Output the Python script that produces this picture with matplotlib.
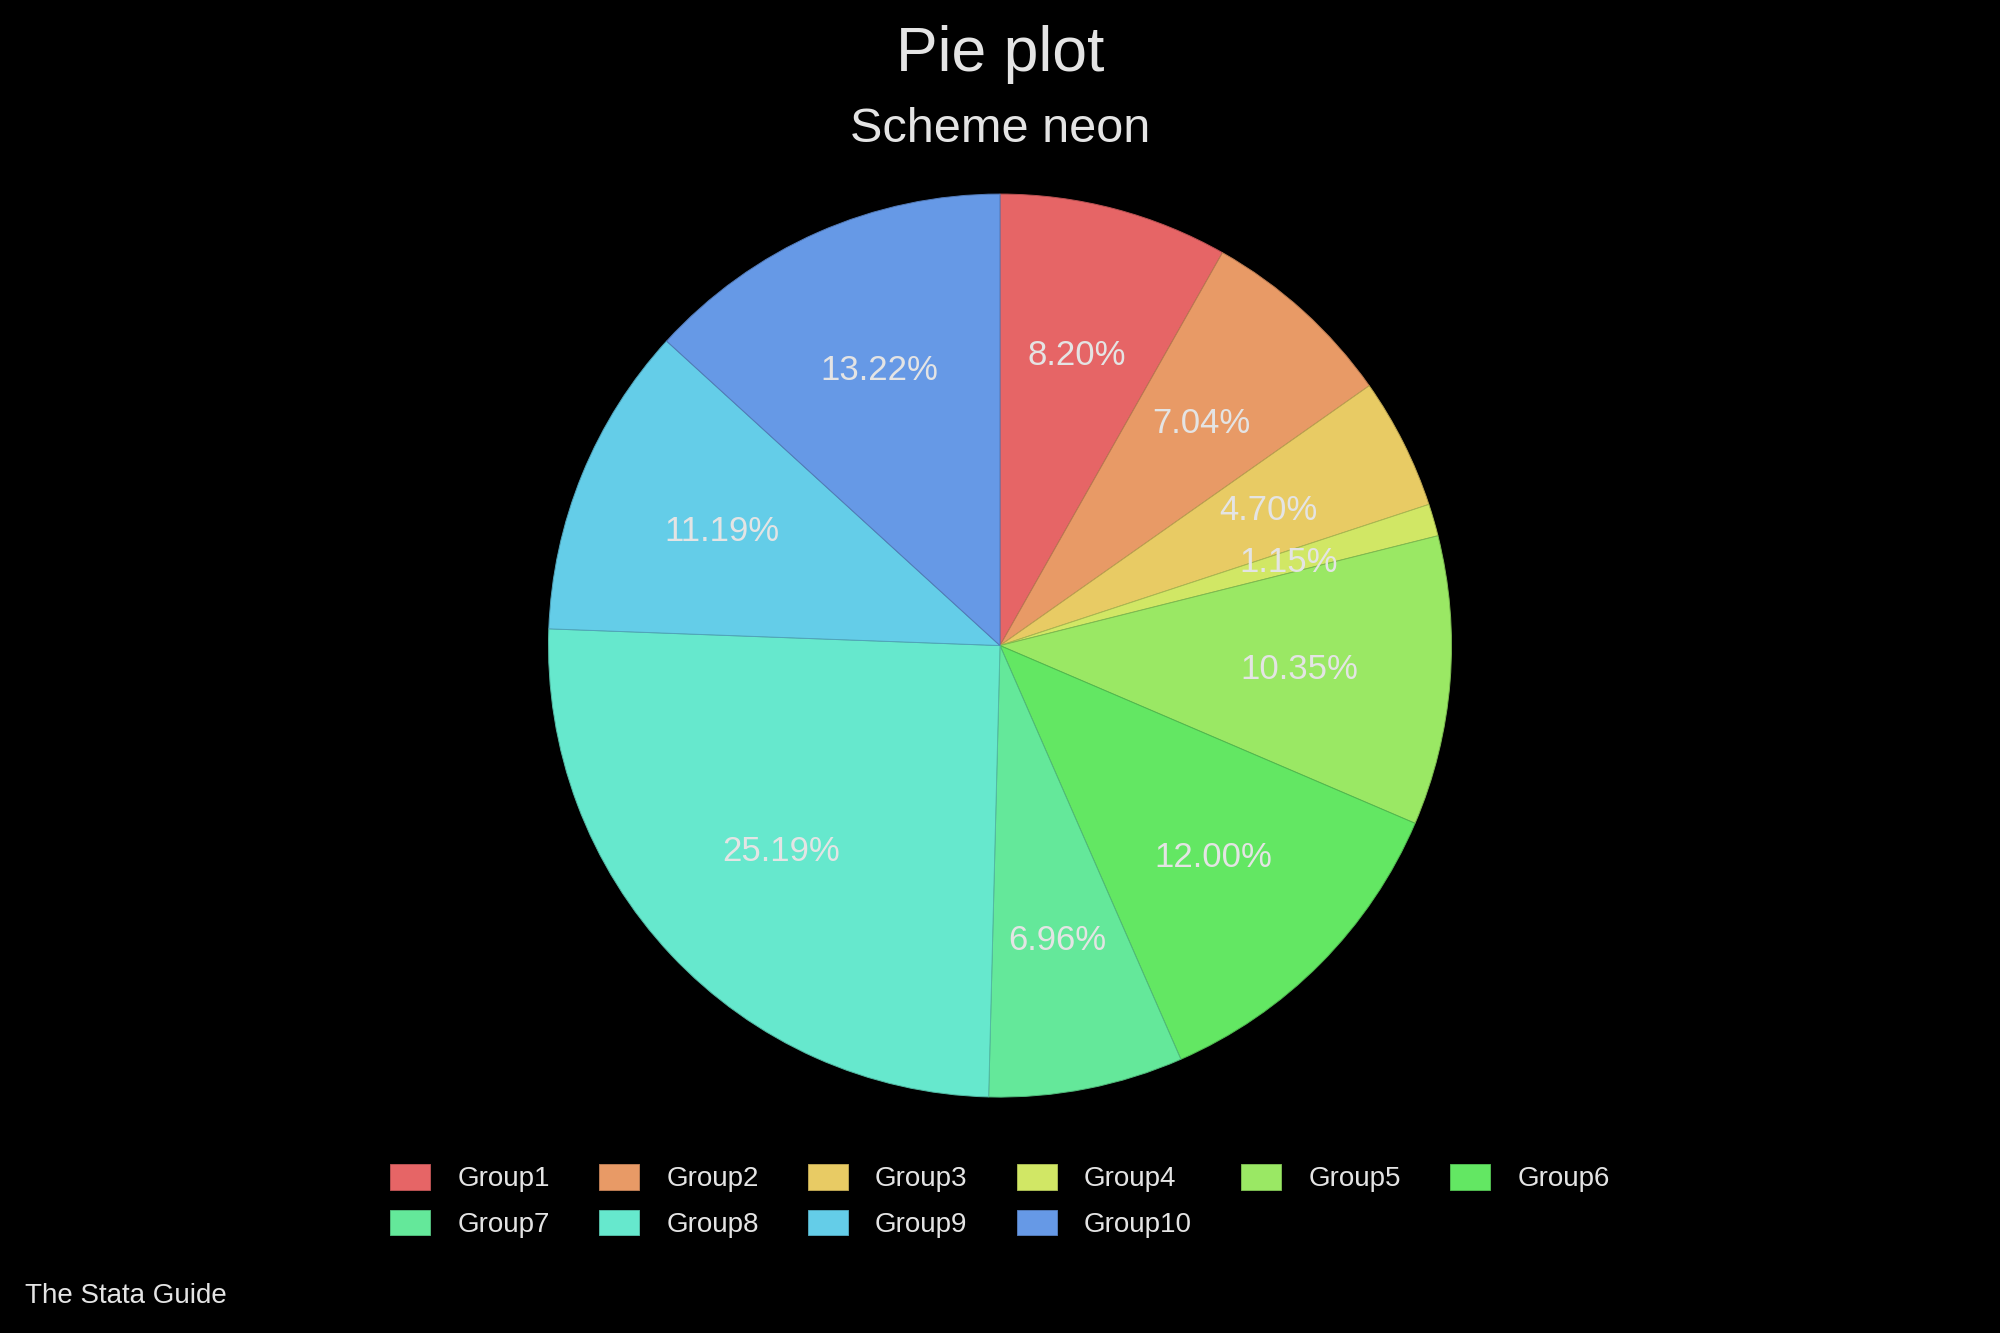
import numpy as np
import matplotlib.pyplot as plt
from matplotlib.colors import to_rgb
from matplotlib.patches import Patch

plt.rcParams['font.family'] = ['Liberation Sans Narrow', 'Liberation Sans', 'DejaVu Sans']

# ----------------------------------------------------------------------
# Data (shares in percent)
# ----------------------------------------------------------------------
groups = ["Group1", "Group2", "Group3", "Group4", "Group5",
          "Group6", "Group7", "Group8", "Group9", "Group10"]
shares = [8.20, 7.04, 4.70, 1.15, 10.35, 12.00, 6.96, 25.19, 11.19, 13.22]
colors = ["#E66566", "#E89A66", "#E8CB64", "#D1E765", "#9AE864",
          "#63E763", "#64E89A", "#66E8CD", "#64CDE8", "#6699E6"]

TEXT = "#E4E4E4"
BG = "black"


def darker(c, f=0.8):
    return tuple(v * f for v in to_rgb(c))


fig = plt.figure(figsize=(20, 13.33), dpi=100, facecolor=BG)

# pie axes: centre (1000, 645) px, radius ~452 px
ax = fig.add_axes([0.2742, 0.1770, 0.4516, 0.6774])
ax.set_facecolor(BG)

wedges, texts, autotexts = ax.pie(
    shares, colors=colors, startangle=90, counterclock=False,
    autopct="%.2f%%", pctdistance=0.665,
    wedgeprops=dict(linewidth=0.7),
    textprops=dict(color=TEXT, fontsize=25),
)
for w, c in zip(wedges, colors):
    w.set_edgecolor(darker(c))
ax.set_xlim(-1, 1)
ax.set_ylim(-1, 1)
ax.set_aspect("equal")
ax.axis("off")

fig.text(0.5, 1 - 54 / 1333, "Pie plot", ha="center", va="center",
         fontsize=45, color=TEXT)
fig.text(0.5, 1 - 129 / 1333, "Scheme neon", ha="center", va="center",
         fontsize=35, color=TEXT)

# legend laid out row by row (6 per row); matplotlib fills column-wise
handles = [Patch(facecolor=c, edgecolor=darker(c), linewidth=0.7)
           for c in colors]
order = [0, 6, 1, 7, 2, 8, 3, 9, 4, 5]
leg = fig.legend([handles[i] for i in order], [groups[i] for i in order],
                 loc="center", ncol=6,
                 bbox_to_anchor=(0.5, 1 - 1201 / 1333),
                 frameon=False, fontsize=20, labelcolor=TEXT,
                 handlelength=1.44, handleheight=1.04, handletextpad=0.97,
                 columnspacing=1.78, labelspacing=0.62)

fig.text(25 / 2000, 1 - 1303 / 1333, "The Stata Guide", ha="left",
         va="baseline", fontsize=20, color=TEXT)

fig.savefig("out.png", dpi=100, facecolor=BG)
